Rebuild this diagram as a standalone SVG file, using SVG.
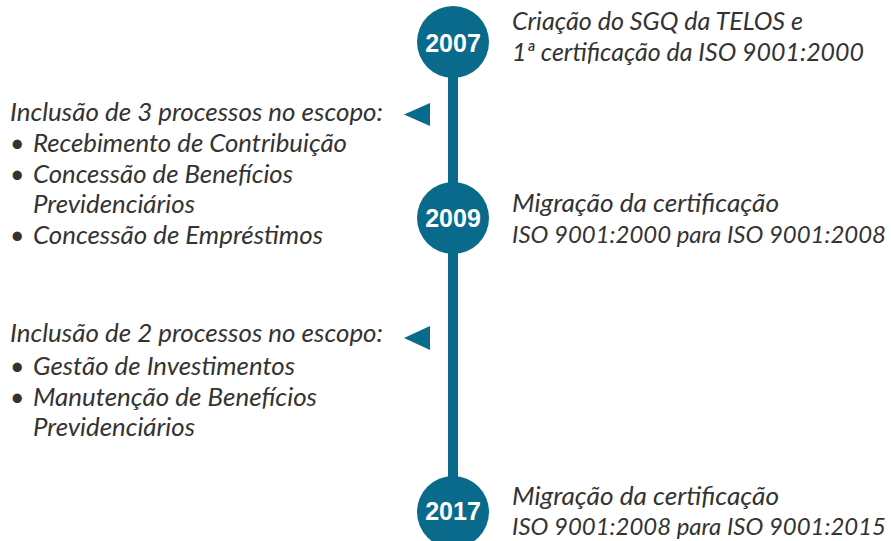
<svg xmlns="http://www.w3.org/2000/svg" width="891" height="541" viewBox="0 0 891 541">
<style>
.t{font-family:Lato,"Liberation Sans",sans-serif;font-style:italic;font-size:25px;fill:#333333}
.s{font-size:24px}
.y{font-family:"Liberation Sans",Arial,sans-serif;font-weight:bold;font-size:25px;fill:#ffffff;text-anchor:middle}
.c{fill:#0a6a8c}
</style>
<rect width="891" height="541" fill="#ffffff"/>
<g id="connectors">
<rect class="c" x="448" y="42" width="10" height="470"/>
<polygon class="c" points="404,114.5 430,103 430,126"/>
<polygon class="c" points="404,338 430,326 430,350"/>
</g>
<g id="n2007">
<circle class="c" cx="453" cy="42" r="36"/>
<text class="y" x="453" y="52">2007</text>
</g>
<g id="n2009">
<circle class="c" cx="453" cy="218" r="36"/>
<text class="y" x="453" y="227">2009</text>
</g>
<g id="n2017">
<circle class="c" cx="453" cy="512" r="36"/>
<text class="y" x="453" y="520">2017</text>
</g>
<g id="d2007">
<text class="t" x="512" y="30" textLength="291" lengthAdjust="spacingAndGlyphs">Criação do SGQ da TELOS e</text>
<text class="t" x="512" y="61" textLength="352" lengthAdjust="spacingAndGlyphs">1ª certificação da ISO 9001:2000</text>
</g>
<g id="d2009">
<text class="t" x="512" y="212" textLength="267" lengthAdjust="spacingAndGlyphs">Migração da certificação</text>
<text class="t s" x="512" y="243" textLength="374" lengthAdjust="spacingAndGlyphs">ISO 9001:2000 para ISO 9001:2008</text>
</g>
<g id="d2017">
<text class="t" x="512" y="505" textLength="267" lengthAdjust="spacingAndGlyphs">Migração da certificação</text>
<text class="t s" x="512" y="535" textLength="374" lengthAdjust="spacingAndGlyphs">ISO 9001:2008 para ISO 9001:2015</text>
</g>
<g id="scope1">
<text class="t" x="10" y="121" textLength="373" lengthAdjust="spacingAndGlyphs">Inclusão de 3 processos no escopo:</text>
<text class="t" x="10" y="152">•</text>
<text class="t" x="33" y="152" textLength="314" lengthAdjust="spacingAndGlyphs">Recebimento de Contribuição</text>
<text class="t" x="10" y="183">•</text>
<text class="t" x="33" y="183" textLength="260" lengthAdjust="spacingAndGlyphs">Concessão de Benefícios</text>
<text class="t" x="33" y="213" textLength="162" lengthAdjust="spacingAndGlyphs">Previdenciários</text>
<text class="t" x="10" y="244">•</text>
<text class="t" x="33" y="244" textLength="290" lengthAdjust="spacingAndGlyphs">Concessão de Empréstimos</text>
</g>
<g id="scope2">
<text class="t" x="10" y="342" textLength="373" lengthAdjust="spacingAndGlyphs">Inclusão de 2 processos no escopo:</text>
<text class="t" x="10" y="375">•</text>
<text class="t" x="33" y="375" textLength="262" lengthAdjust="spacingAndGlyphs">Gestão de Investimentos</text>
<text class="t" x="10" y="406">•</text>
<text class="t" x="33" y="406" textLength="284" lengthAdjust="spacingAndGlyphs">Manutenção de Benefícios</text>
<text class="t" x="33" y="436" textLength="162" lengthAdjust="spacingAndGlyphs">Previdenciários</text>
</g>
</svg>
